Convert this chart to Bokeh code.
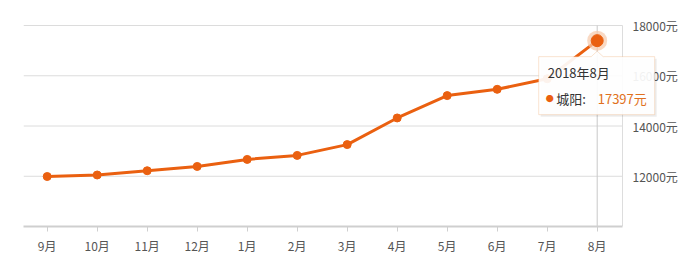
from bokeh.plotting import figure
from bokeh.models import Range1d, FixedTicker, PolyAnnotation, Label
from bokeh.core.properties import value
from bokeh.embed import file_html
from bokeh.resources import INLINE

# ---- data ----
months = ["9月", "10月", "11月", "12月", "1月", "2月", "3月", "4月", "5月", "6月", "7月", "8月"]
prices = [11990, 12050, 12220, 12390, 12670, 12830, 13260, 14320, 15210, 15460, 15880, 17397]
y_ticks = [12000, 14000, 16000, 18000]
series_name = "城阳"
tooltip_title = "2018年8月"
unit = "元"

FONT = "Noto Sans CJK SC"
ORANGE = "#ea6010"
GRID = "#dcdcdc"
xs = list(range(len(months)))
last = len(months) - 1

# layout in pixels
LEFT, BOTTOM = 23, 42
FRAME_W, FRAME_H = 670, 226          # frame reaches right and top edges (room for tooltip)
PLOT_W, PLOT_H = 599, 201            # visible plotting box (bordered region)
Y0, YTOP = 10000, 18000
PX_X = 50.0                          # pixels per category
PX_Y = PLOT_H / (YTOP - Y0)
X0 = -23.7 / PX_X
XB = X0 + PLOT_W / PX_X              # right border of the plotting box
X1 = X0 + FRAME_W / PX_X
Y1 = Y0 + FRAME_H / PX_Y

p = figure(width=693, height=268, output_backend="svg", toolbar_location=None,
           x_range=Range1d(X0, X1), y_range=Range1d(Y0, Y1),
           frame_width=FRAME_W, frame_height=FRAME_H,
           min_border_left=LEFT, min_border_right=0, min_border_top=0, min_border_bottom=BOTTOM)
p.outline_line_color = None
p.background_fill_color = "white"
p.border_fill_color = "white"
p.yaxis.visible = False
p.xgrid.grid_line_color = None
p.ygrid.grid_line_color = None

# x axis
p.xaxis.bounds = (X0, XB)
p.xaxis.ticker = FixedTicker(ticks=xs)
p.xaxis.major_label_overrides = {i: m for i, m in enumerate(months)}
p.xaxis.axis_line_color = "#cfcfcf"
p.xaxis.axis_line_width = 2
p.xaxis.major_tick_line_color = "#cfcfcf"
p.xaxis.major_tick_out = 5
p.xaxis.major_tick_in = 0
p.xaxis.minor_tick_line_color = None
p.xaxis.major_label_standoff = 5
p.xaxis.major_label_text_font = FONT
p.xaxis.major_label_text_font_size = "12px"
p.xaxis.major_label_text_color = "#555555"

# horizontal grid lines, right border and y labels
g = p.segment(x0=[X0] * len(y_ticks), x1=[XB] * len(y_ticks), y0=y_ticks, y1=y_ticks,
              line_color=GRID, line_width=1)
g.level = "underlay"
b = p.segment(x0=[XB], x1=[XB], y0=[Y0], y1=[YTOP], line_color="#dddddd", line_width=1)
b.level = "underlay"
p.text(x=[XB + 10 / PX_X] * len(y_ticks), y=y_ticks, text=[f"{t}{unit}" for t in y_ticks],
       text_font=value(FONT), text_font_size="12px", text_color="#555555",
       text_baseline="middle", text_align="left")

# crosshair at the hovered point
c = p.segment(x0=[xs[last]], x1=[xs[last]], y0=[Y0], y1=[YTOP], line_color="#c8c8c8", line_width=1)
c.level = "underlay"

# series
p.line(xs, prices, line_color=ORANGE, line_width=3)
p.scatter(xs[:last], prices[:last], size=8, fill_color=ORANGE, line_color=ORANGE)
p.scatter([xs[last]], [prices[last]], size=20, fill_color="#f7c9aa", line_color=None, fill_alpha=0.7)
p.scatter([xs[last]], [prices[last]], size=12, fill_color=ORANGE, line_color=ORANGE)

# tooltip, positioned by pixel offsets from the hovered point
px0, py0 = xs[last], prices[last]

def dx(px):
    return px0 + px / PX_X

def dy(py):  # py: pixels below the point
    return py0 - py / PX_Y

shape = [(-58.5, 16), (-6, 16), (0, 10.5), (6, 16), (57.5, 16), (57.5, 74), (-58.5, 74)]
p.add_layout(PolyAnnotation(xs=[dx(a + 2) for a, b_ in shape], ys=[dy(b_ + 2) for a, b_ in shape],
                            fill_color="#000000", fill_alpha=0.07, line_color=None))
p.add_layout(PolyAnnotation(xs=[dx(a) for a, b_ in shape], ys=[dy(b_) for a, b_ in shape],
                            fill_color="white", fill_alpha=0.92, line_color="#f0a467", line_width=1))

p.add_layout(Label(x=dx(-49.5), y=dy(32), text=tooltip_title, text_font=FONT,
                   text_font_size="13px", text_color="#333333",
                   text_baseline="middle", text_align="left"))
p.add_layout(Label(x=dx(-47.5), y=dy(58), text="●", text_font=FONT,
                   text_font_size="8px", text_color=ORANGE,
                   text_baseline="middle", text_align="center"))
p.add_layout(Label(x=dx(-41), y=dy(58), text=f"{series_name}:", text_font=FONT,
                   text_font_size="13px", text_color="#333333",
                   text_baseline="middle", text_align="left"))
p.add_layout(Label(x=dx(0.5), y=dy(58), text=f"{prices[last]}{unit}", text_font=FONT,
                   text_font_size="13px", text_color="#e07020",
                   text_baseline="middle", text_align="left"))

open("out.html", "w").write(file_html(p, INLINE))
